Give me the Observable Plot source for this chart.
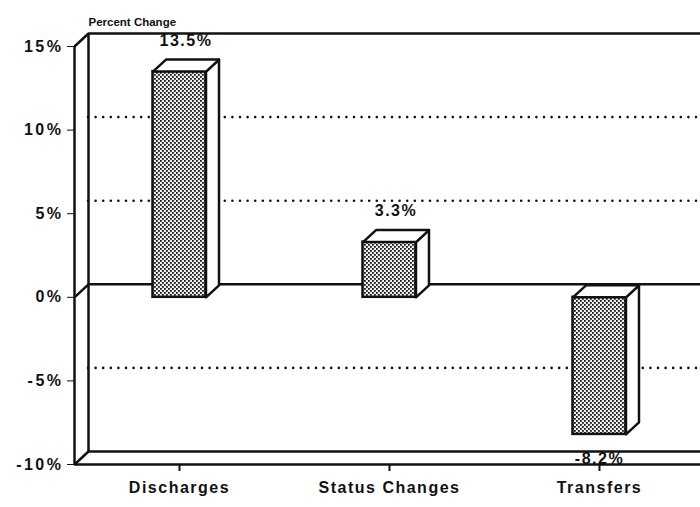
<!DOCTYPE html>
<html><head><meta charset="utf-8">
<script src="https://cdn.jsdelivr.net/npm/d3@7"></script>
<script src="https://cdn.jsdelivr.net/npm/@observablehq/plot@0.6"></script>
<style>
html,body{margin:0;padding:0;background:#fff;overflow:hidden;}
#chart svg{font-family:"Liberation Sans",Arial,Helvetica,sans-serif;letter-spacing:1.5px;display:block;}
#chart svg g[aria-label="y-axis tick label"] text{letter-spacing:2.5px;}
#chart svg .title-text text{letter-spacing:0;}
</style></head><body><div id="chart"></div>
<script>
// ---- data ----
const categories = ["Discharges", "Status Changes", "Transfers"];
const values = [13.5, 3.3, -8.2];
const valueLabels = ["13.5%", "3.3%", "-8.2%"];
const yTicks = [-10, -5, 0, 5, 10, 15];
const gridTicks = [-5, 5, 10];
const solidBackTicks = [-10, 0, 15];
const yTitle = "Percent Change";

// ---- layout ----
const W = 700, H = 507, ML = 74, MR = 0, MT = 46, MB = 43;
const Y_MIN = -10, Y_MAX = 15;
const X_MAX = 2.981;
const xPx = (W - ML - MR) / X_MAX;
const yPx = (H - MT - MB) / (Y_MAX - Y_MIN);
const DEPTH = {x: 13, y: 12}, WALL = {x: 14, y: 13};
const dX = DEPTH.x / xPx, dY = DEPTH.y / yPx;
const wX = WALL.x / xPx, wY = WALL.y / yPx;
const HALF = 26.5 / xPx;

const bars = categories.map((c, i) => ({cat: c, xc: i + 0.5, value: values[i], label: valueLabels[i]}));

const faces = [];
bars.forEach((b, i) => {
  const x1 = b.xc - HALF, x2 = b.xc + HALF, v = b.value, t = Math.max(v, 0);
  const side = [[x2, 0], [x2 + dX, dY], [x2 + dX, v + dY], [x2, v], [x2, 0]];
  const top = [[x1, t], [x2, t], [x2 + dX, t + dY], [x1 + dX, t + dY], [x1, t]];
  side.forEach(([x, y]) => faces.push({face: "side" + i, x, y}));
  top.forEach(([x, y]) => faces.push({face: "top" + i, x, y}));
});

const stroke = "#111";
const SW = 2.5;
const chart = Plot.plot({
  width: W, height: H,
  marginLeft: ML, marginRight: MR, marginTop: MT, marginBottom: MB,
  x: {domain: [0, X_MAX], axis: null},
  y: {domain: [Y_MIN, Y_MAX], ticks: yTicks, tickFormat: d => `${d}%`, tickSize: 7, tickPadding: 4, label: null},
  style: {fontSize: "16px", fontWeight: "bold", color: stroke, background: "#fff"},
  marks: [
    // back wall lines
    Plot.ruleY(solidBackTicks, {x1: 0, x2: X_MAX - wX, dx: WALL.x, dy: -WALL.y, stroke, strokeWidth: SW}),
    Plot.ruleY(gridTicks, {x1: 0, x2: X_MAX - wX, dx: WALL.x, dy: -WALL.y, stroke, strokeWidth: 2.6, strokeDasharray: "0 7.6", strokeLinecap: "round"}),
    Plot.ruleX([0], {y1: Y_MIN, y2: Y_MAX, dx: WALL.x, dy: -WALL.y, stroke, strokeWidth: SW}),
    // diagonals joining front and back wall
    Plot.link(solidBackTicks, {x1: 0, x2: wX, y1: d => d, y2: d => d + wY, stroke, strokeWidth: SW}),
    // front axis and floor
    Plot.ruleX([0], {y1: Y_MIN, y2: Y_MAX, stroke, strokeWidth: SW}),
    Plot.ruleY([Y_MIN], {x1: 0, x2: X_MAX, stroke, strokeWidth: SW}),
    // category ticks
    Plot.ruleX(bars, {x: "xc", y1: Y_MIN, y2: Y_MIN - 7 / yPx, stroke, strokeWidth: 2}),
    // bars: front face
    Plot.rect(bars, {x1: d => d.xc - HALF, x2: d => d.xc + HALF, y1: 0, y2: "value", fill: "url(#stipple)", stroke, strokeWidth: SW}),
    // bars: side and top faces
    Plot.line(faces, {x: "x", y: "y", z: "face", fill: "#fff", stroke, strokeWidth: SW, strokeLinejoin: "round", curve: "linear"}),
    // value labels
    Plot.text(bars, {filter: d => d.value >= 0, x: d => d.xc + dX / 2, y: "value", text: "label", dy: -31, fontSize: 16}),
    Plot.text(bars, {filter: d => d.value < 0, x: d => d.xc, y: "value", text: "label", dy: 24, fontSize: 16}),
    // category labels
    Plot.text(bars, {x: "xc", y: Y_MIN, text: "cat", dy: 23, fontSize: 16}),
    // title
    Plot.text([yTitle], {frameAnchor: "top-left", text: d => d, dx: 14, dy: -29, textAnchor: "start", fontSize: 11.5, className: "title-text"})
  ]
});

// stipple pattern
const svgNS = "http://www.w3.org/2000/svg";
const defs = document.createElementNS(svgNS, "defs");
defs.innerHTML = `<pattern id="stipple" patternUnits="userSpaceOnUse" width="4" height="4">
  <rect width="4" height="4" fill="#eeeeee"/>
  <rect x="0" y="0" width="1.8" height="1.8" fill="#1a1a1a"/>
  <rect x="2" y="2" width="1.8" height="1.8" fill="#1a1a1a"/>
</pattern>`;
chart.insertBefore(defs, chart.firstChild);
document.getElementById("chart").appendChild(chart);
</script></body></html>
